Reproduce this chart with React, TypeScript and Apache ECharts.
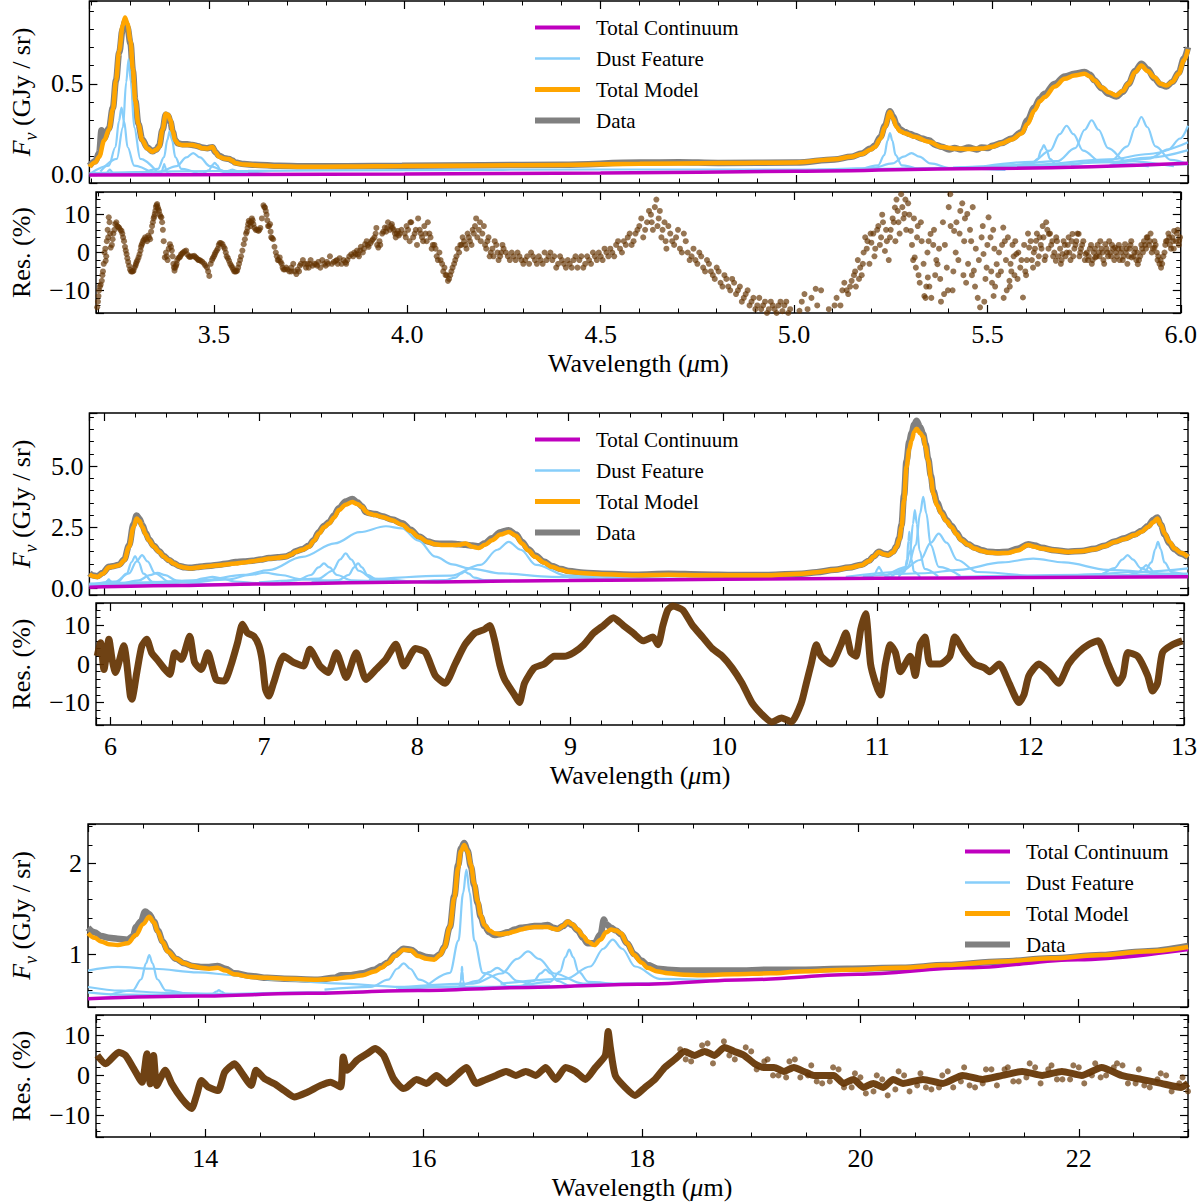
import React, { useEffect, useRef } from "react";
import * as echarts from "echarts";

type P = [number, number][];

// ---------------- Panel 1 (3.2 - 6.0 um) ----------------
const p1Model: P = [[3.195,0.044],[3.21,0.07],[3.22,0.10],[3.233,0.19],[3.245,0.25],[3.255,0.36],[3.263,0.52],[3.271,0.68],[3.28,0.82],[3.286,0.863],[3.292,0.83],[3.30,0.736],[3.306,0.58],[3.312,0.41],[3.32,0.28],[3.33,0.19],[3.343,0.145],[3.356,0.127],[3.366,0.138],[3.373,0.154],[3.382,0.25],[3.39,0.336],[3.396,0.33],[3.402,0.30],[3.408,0.24],[3.414,0.19],[3.422,0.17],[3.432,0.164],[3.445,0.165],[3.458,0.164],[3.472,0.157],[3.483,0.147],[3.496,0.145],[3.509,0.154],[3.517,0.125],[3.526,0.10],[3.54,0.09],[3.551,0.087],[3.56,0.078],[3.567,0.065],[3.59,0.057],[3.618,0.054],[3.68,0.048],[3.738,0.045],[3.85,0.046],[3.993,0.049],[4.2,0.052],[4.4,0.055],[4.6,0.062],[4.8,0.065],[5.0,0.069],[5.098,0.086],[5.14,0.1],[5.167,0.115],[5.19,0.14],[5.2,0.154],[5.215,0.2],[5.226,0.263],[5.239,0.345],[5.247,0.31],[5.256,0.263],[5.265,0.24],[5.277,0.229],[5.302,0.209],[5.338,0.182],[5.371,0.154],[5.404,0.145],[5.44,0.143],[5.473,0.145],[5.50,0.155],[5.524,0.173],[5.55,0.195],[5.575,0.227],[5.59,0.28],[5.608,0.354],[5.622,0.405],[5.634,0.427],[5.66,0.485],[5.685,0.527],[5.71,0.545],[5.736,0.555],[5.75,0.54],[5.761,0.518],[5.78,0.48],[5.797,0.454],[5.817,0.436],[5.833,0.46],[5.848,0.50],[5.865,0.565],[5.881,0.60],[5.897,0.57],[5.914,0.536],[5.93,0.50],[5.945,0.49],[5.96,0.51],[5.976,0.555],[5.99,0.63],[6.0,0.69]];
const p1Data: P = [[3.195,0.05],[3.21,0.075],[3.22,0.12],[3.226,0.245],[3.232,0.2],[3.245,0.255],[3.255,0.37],[3.263,0.52],[3.271,0.67],[3.28,0.80],[3.286,0.84],[3.292,0.81],[3.30,0.72],[3.306,0.57],[3.312,0.41],[3.32,0.28],[3.33,0.195],[3.343,0.15],[3.356,0.13],[3.366,0.14],[3.373,0.16],[3.382,0.25],[3.39,0.33],[3.396,0.325],[3.402,0.29],[3.408,0.235],[3.414,0.19],[3.422,0.172],[3.432,0.168],[3.445,0.168],[3.458,0.165],[3.472,0.158],[3.483,0.15],[3.496,0.147],[3.509,0.152],[3.517,0.125],[3.526,0.105],[3.54,0.092],[3.551,0.088],[3.56,0.08],[3.567,0.068],[3.59,0.06],[3.618,0.056],[3.68,0.05],[3.738,0.048],[3.85,0.048],[3.993,0.05],[4.2,0.054],[4.4,0.056],[4.6,0.068],[4.7,0.07],[4.8,0.066],[5.0,0.068],[5.098,0.085],[5.14,0.1],[5.167,0.118],[5.19,0.145],[5.2,0.16],[5.215,0.21],[5.226,0.27],[5.239,0.35],[5.247,0.32],[5.256,0.275],[5.265,0.25],[5.277,0.235],[5.29,0.225],[5.302,0.215],[5.32,0.2],[5.338,0.19],[5.355,0.165],[5.371,0.155],[5.39,0.14],[5.404,0.148],[5.42,0.14],[5.44,0.15],[5.46,0.14],[5.473,0.15],[5.49,0.148],[5.50,0.16],[5.524,0.175],[5.55,0.2],[5.575,0.235],[5.59,0.3],[5.608,0.37],[5.622,0.42],[5.634,0.445],[5.66,0.5],[5.685,0.54],[5.71,0.555],[5.736,0.565],[5.75,0.55],[5.761,0.52],[5.78,0.475],[5.797,0.445],[5.817,0.43],[5.833,0.455],[5.848,0.5],[5.865,0.57],[5.881,0.61],[5.897,0.58],[5.914,0.53],[5.93,0.495],[5.945,0.485],[5.96,0.51],[5.976,0.56],[5.99,0.64],[6.0,0.70]];
const p1Cont: P = [[3.195,0.0],[3.6,0.002],[4.0,0.005],[4.5,0.011],[5.0,0.02],[5.5,0.036],[6.0,0.064]];
const p1F1: P = [[3.211,0.001],[3.232,0.004],[3.240,0.012],[3.244,0.024],[3.247,0.03],[3.250,0.024],[3.254,0.012],[3.262,0.004],[3.283,0.001]];
const p1F2: P = [[3.199,0.01],[3.2445,0.051],[3.2614,0.152],[3.2705,0.296],[3.277,0.37],[3.2835,0.296],[3.2926,0.152],[3.3095,0.051],[3.355,0.01]];
const p1F3: P = [[3.223,0.019],[3.265,0.088],[3.2806,0.261],[3.289,0.509],[3.295,0.636],[3.301,0.509],[3.3094,0.261],[3.325,0.088],[3.367,0.019]];
const p1F4: P = [[3.328,0.007],[3.37,0.033],[3.3856,0.098],[3.394,0.192],[3.40,0.24],[3.406,0.192],[3.4144,0.098],[3.43,0.033],[3.472,0.007]];
const p1F5: P = [[3.362,0.002],[3.376,0.008],[3.381,0.025],[3.384,0.048],[3.386,0.06],[3.388,0.048],[3.391,0.025],[3.396,0.008],[3.41,0.002]];
const p1F6: P = [[3.25,0.004],[3.3725,0.017],[3.418,0.049],[3.4425,0.096],[3.46,0.12],[3.4775,0.096],[3.502,0.049],[3.5475,0.017],[3.67,0.004]];
const p1F7: P = [[3.443,0.002],[3.485,0.009],[3.5006,0.027],[3.509,0.054],[3.515,0.067],[3.521,0.054],[3.5294,0.027],[3.545,0.009],[3.587,0.002]];
const p1F8: P = [[3.47,0.001],[3.5225,0.004],[3.542,0.012],[3.5525,0.024],[3.56,0.03],[3.5675,0.024],[3.578,0.012],[3.5975,0.004],[3.65,0.001]];
const p1F9: P = [[3.195,0.01],[3.6,0.022],[4.0,0.027],[4.5,0.03],[5.0,0.03],[5.5,0.04],[6.0,0.06]];
const p1F10: P = [[5.167,0.031],[5.209,0.053],[5.2246,0.109],[5.233,0.189],[5.239,0.23],[5.245,0.189],[5.2534,0.109],[5.269,0.053],[5.311,0.031]];
const p1F11: P = [[5.054,0.028],[5.194,0.038],[5.246,0.064],[5.274,0.101],[5.294,0.12],[5.314,0.101],[5.342,0.064],[5.394,0.038],[5.534,0.028]];
const p1F12: P = [[5.554,0.039],[5.5995,0.053],[5.6164,0.088],[5.6255,0.138],[5.632,0.164],[5.6385,0.138],[5.6476,0.088],[5.6645,0.053],[5.71,0.039]];
const p1F13: P = [[5.48,0.047],[5.6025,0.072],[5.648,0.134],[5.6725,0.224],[5.69,0.27],[5.7075,0.224],[5.732,0.134],[5.7775,0.072],[5.90,0.047]];
const p1F14: P = [[5.544,0.048],[5.6665,0.076],[5.712,0.147],[5.7365,0.248],[5.754,0.30],[5.7715,0.248],[5.796,0.147],[5.8415,0.076],[5.964,0.048]];
const p1F15: P = [[5.701,0.053],[5.806,0.083],[5.845,0.157],[5.866,0.263],[5.881,0.318],[5.896,0.263],[5.917,0.157],[5.956,0.083],[6.0,0.06]];
const p1F16: P = [[5.8,0.055],[5.9,0.09],[5.95,0.14],[5.98,0.2],[6.0,0.27]];
const p1F17: P = [[5.4,0.04],[5.6,0.055],[5.8,0.085],[5.9,0.115],[6.0,0.18]];
const p1F18: P = [[5.4,0.038],[5.6,0.05],[5.8,0.07],[5.9,0.095],[6.0,0.136]];
const p1Res: P = [[3.198,-14.5],[3.200,-13],[3.203,-10],[3.205,-9],[3.210,-7.5],[3.213,-5],[3.217,0],[3.220,-2.2],[3.223,3],[3.225,6],[3.228,9.3],[3.230,8],[3.233,1.3],[3.236,2],[3.240,5],[3.245,7.5],[3.250,7],[3.255,6.5],[3.261,5.7],[3.265,4],[3.270,1.5],[3.274,-0.4],[3.278,-2.5],[3.283,-4.5],[3.288,-5],[3.292,-4.8],[3.297,-3.5],[3.300,-2.5],[3.305,-1.3],[3.310,0.5],[3.313,2],[3.317,3.1],[3.322,4],[3.327,3],[3.330,4.5],[3.335,3.5],[3.340,7],[3.344,9],[3.347,10.2],[3.350,12],[3.353,12.8],[3.356,11.5],[3.360,10],[3.364,9.3],[3.368,6],[3.373,-1.3],[3.376,0],[3.380,-2],[3.386,2.2],[3.391,0.5],[3.395,-3],[3.398,-4.8],[3.402,-3.5],[3.405,-2],[3.411,-1.3],[3.415,-0.5],[3.42,0],[3.428,0.5],[3.435,-1],[3.44,-1],[3.449,-0.9],[3.455,-1.5],[3.46,-2],[3.466,-2.2],[3.475,-3],[3.482,-4],[3.488,-6.2],[3.495,-2],[3.50,-1],[3.504,0],[3.51,1],[3.515,2.5],[3.522,2.2],[3.528,1],[3.533,-1],[3.539,-2.2],[3.545,-3.5],[3.55,-4.5],[3.555,-5],[3.560,-4.8],[3.565,-3],[3.57,-1],[3.577,2.2],[3.583,5],[3.587,6.5],[3.590,8.4],[3.595,7],[3.598,9],[3.602,7.5],[3.608,6],[3.615,5.7],[3.62,6.5],[3.628,12.5],[3.632,11.9],[3.636,10],[3.64,7],[3.645,7.5],[3.648,4],[3.653,3.5],[3.66,0],[3.665,-2],[3.670,-1.3],[3.675,-3],[3.68,-4.5],[3.687,-4],[3.695,-5],[3.70,-4],[3.705,-3],[3.713,-5.7],[3.72,-5],[3.725,-3],[3.73,-2],[3.738,-4],[3.745,-4],[3.75,-2],[3.755,-3.5],[3.764,-3.1],[3.77,-2.5],[3.775,-4],[3.78,-2],[3.789,-3.5],[3.795,-3],[3.80,-1],[3.805,-3],[3.815,-2.2],[3.82,-3],[3.825,-1.5],[3.83,-3],[3.840,-2.6],[3.845,-2],[3.85,-1],[3.855,-0.5],[3.866,-0.4],[3.87,0.5],[3.875,-1],[3.88,1.5],[3.885,0],[3.891,2.2],[3.895,3],[3.90,1.5],[3.908,3.1],[3.915,4],[3.92,6.5],[3.925,1.3],[3.93,2],[3.935,5],[3.942,6.6],[3.945,5.5],[3.95,8],[3.955,6],[3.960,7.5],[3.965,6],[3.97,4],[3.976,5.7],[3.98,5],[3.993,5],[3.998,7],[4.006,3],[4.01,8],[4.019,5],[4.025,2],[4.032,6],[4.038,4],[4.044,7],[4.05,3],[4.057,5],[4.063,1],[4.07,2],[4.076,-1],[4.083,0],[4.09,-3],[4.096,-4],[4.102,-6],[4.108,-7],[4.114,-5],[4.121,-3],[4.127,-1],[4.134,0],[4.14,2],[4.147,3],[4.153,1],[4.159,4],[4.166,2],[4.172,5],[4.178,9],[4.185,6],[4.19,3],[4.198,7],[4.204,1],[4.21,4],[4.216,0],[4.223,-1],[4.23,2],[4.236,-2],[4.243,0],[4.249,1],[4.26,-1],[4.27,0],[4.28,-2],[4.29,-1],[4.3,-3],[4.31,-1],[4.32,0],[4.33,-2],[4.34,-1],[4.35,-3],[4.36,-2],[4.37,0],[4.38,-1],[4.39,-3],[4.40,-2],[4.41,-4],[4.42,-3],[4.43,-2],[4.44,-4],[4.45,-1],[4.46,-3],[4.47,-2],[4.48,0],[4.49,-2],[4.50,-1],[4.51,1],[4.52,-1],[4.53,0],[4.54,2],[4.55,1],[4.56,3],[4.57,4],[4.58,2],[4.59,5],[4.60,7],[4.61,4],[4.62,8],[4.63,10],[4.635,6],[4.644,14],[4.65,9],[4.657,4],[4.665,8],[4.67,1],[4.68,5],[4.69,2],[4.70,6],[4.71,0],[4.72,3],[4.73,-2],[4.74,1],[4.75,-3],[4.76,-1],[4.77,-5],[4.78,-3],[4.79,-6],[4.80,-4],[4.81,-8],[4.82,-6],[4.83,-9],[4.84,-7],[4.85,-11],[4.86,-9],[4.87,-12],[4.88,-10],[4.89,-13],[4.90,-15],[4.91,-12],[4.92,-14],[4.93,-16],[4.94,-13],[4.95,-15],[4.96,-14],[4.97,-15.5],[4.98,-13],[4.99,-15],[5.014,-15.4],[5.02,-13],[5.027,-11],[5.035,-15],[5.045,-12],[5.056,-9.6],[5.06,-14],[5.07,-10],[5.09,-15],[5.11,-12],[5.12,-14],[5.13,-8],[5.136,-10],[5.14,-11],[5.149,-7.5],[5.155,-6],[5.16,-9],[5.165,-2],[5.171,-4],[5.175,-6],[5.18,0],[5.184,4],[5.19,3],[5.195,-3],[5.200,2.6],[5.205,5],[5.21,1],[5.218,7],[5.225,4],[5.23,8],[5.235,0.4],[5.24,3],[5.245,-2],[5.25,6],[5.255,9],[5.261,11.9],[5.265,14],[5.27,8],[5.277,15.4],[5.28,12],[5.286,10.2],[5.29,6],[5.295,13],[5.302,5.7],[5.305,2],[5.31,9],[5.312,-1.3],[5.315,-4],[5.32,7],[5.325,-8],[5.33,3],[5.337,-11.5],[5.34,-12],[5.345,0],[5.346,-6.6],[5.35,-9],[5.353,4.9],[5.36,2],[5.365,-6],[5.371,-3.1],[5.375,1],[5.38,-13],[5.385,8],[5.388,-11],[5.395,-4],[5.40,12],[5.404,15.4],[5.41,-10],[5.414,5.7],[5.42,8],[5.425,-2],[5.430,11],[5.435,13],[5.44,3],[5.445,-8],[5.448,10.2],[5.455,6],[5.46,-6],[5.465,-4.8],[5.47,1],[5.475,-12],[5.481,-14.5],[5.485,4],[5.490,-0.4],[5.495,-7],[5.50,2],[5.503,9.3],[5.51,-5],[5.515,6],[5.516,-11.5],[5.52,-9],[5.524,-3.1],[5.53,0],[5.535,-5],[5.541,6.6],[5.545,3],[5.55,-10],[5.557,-7.5],[5.56,-3],[5.565,2],[5.57,-6],[5.575,-0.4],[5.58,0],[5.585,-4],[5.592,-11.9],[5.595,2],[5.60,-6],[5.605,5],[5.608,1.3],[5.615,-2],[5.62,0],[5.626,3.1],[5.63,-3],[5.635,4],[5.64,1],[5.643,7],[5.65,-1],[5.655,6],[5.659,4.9],[5.665,2],[5.67,-1],[5.677,-2.2],[5.68,3],[5.69,-3],[5.694,-0.4],[5.70,2],[5.705,0],[5.71,4],[5.715,-2],[5.720,4.9],[5.725,1],[5.73,3],[5.736,4.9],[5.74,0],[5.745,2],[5.754,-0.4],[5.76,-2],[5.765,1],[5.77,-3],[5.775,0],[5.779,-1.3],[5.785,2],[5.79,-1],[5.795,1],[5.80,-2],[5.805,2.2],[5.81,0],[5.815,3],[5.82,-1],[5.825,1],[5.830,1.3],[5.835,-1],[5.84,2],[5.845,0],[5.85,-2],[5.856,2.2],[5.86,1],[5.865,-1],[5.87,2],[5.873,-1.3],[5.88,0],[5.885,-2],[5.889,-3.1],[5.895,-1],[5.90,1],[5.905,3],[5.91,1],[5.914,4],[5.92,3],[5.925,0],[5.932,1.3],[5.935,2],[5.94,-2],[5.945,-3],[5.949,-4],[5.955,-1],[5.96,2],[5.965,3.1],[5.97,4],[5.975,1],[5.98,3],[5.983,5.7],[5.99,5],[5.995,2],[5.996,3.1]];
const p1ResExtra: P = [[3.2015,-11.5],[3.207,-8.5],[3.2115,-6],[3.215,-3],[3.219,1],[3.2215,-1],[3.2265,4],[3.2315,5],[3.238,3.5],[3.2425,6],[3.2475,8],[3.2525,6.8],[3.258,6],[3.263,5],[3.2675,3],[3.272,0.5],[3.276,-1.5],[3.2805,-3.5],[3.2855,-5],[3.29,-5],[3.2945,-4],[3.2985,-3],[3.3025,-2],[3.3075,-0.5],[3.3115,1.5],[3.315,2.5],[3.3195,3.5],[3.3245,3.5],[3.3325,4],[3.3375,5.5],[3.342,8],[3.3455,9.5],[3.3485,11],[3.3515,12.5],[3.3545,12],[3.358,11],[3.362,9.5],[3.366,8],[3.37,3],[3.378,-1],[3.383,1],[3.389,1.5],[3.393,-1],[3.3965,-4],[3.4,-4],[3.4035,-3],[3.408,-1.5],[3.413,-1],[3.418,-0.3],[3.424,0.3],[3.431,-0.5],[3.438,-1.2],[3.445,-1],[3.452,-1.2],[3.458,-1.8],[3.463,-2],[3.47,-2.5],[3.478,-3.5],[3.485,-5],[3.4915,-3],[3.497,-1.5],[3.502,-0.5],[3.507,0.5],[3.5125,2],[3.518,2.5],[3.525,1.5],[3.5305,0],[3.536,-1.5],[3.542,-3],[3.5475,-4],[3.5525,-5],[3.5575,-5],[3.5625,-4],[3.5675,-2],[3.5735,0.5],[3.58,3.5],[3.585,5.5],[3.5885,7.5],[3.5925,8],[3.5965,8],[3.6,8.5],[3.605,6.5],[3.6115,6],[3.6175,6],[3.624,9],[3.63,12],[3.634,11],[3.638,8.5],[3.6425,7],[3.6465,5.5],[3.6505,3.8],[3.6565,1.5],[3.6625,-1],[3.6675,-2],[3.6725,-2.5],[3.6775,-4],[3.6835,-4.5],[3.69,-4.5],[3.7,-5],[3.709,-5],[3.716,-4.5],[3.722,-3.5],[3.734,-3],[3.741,-3],[3.748,-3],[3.76,-3],[3.767,-3.5],[3.785,-3],[3.792,-2.5],[3.81,-2.5],[3.818,-2],[3.835,-2],[3.842,-3],[3.86,-1],[3.863,0],[3.872,-0.5],[3.878,0.5],[3.888,1],[3.898,2],[3.905,2.5],[3.911,3.5],[3.918,5],[3.922,2],[3.928,3],[3.938,5.5],[3.948,6.5],[3.958,7],[3.962,6.5],[3.968,5],[3.973,5],[3.978,4.5],[3.985,6],[3.996,4],[4.002,6],[4.008,8],[4.015,4],[4.022,6],[4.028,9],[4.035,5],[4.041,3],[4.047,5],[4.053,8],[4.06,4],[4.066,2],[4.073,1],[4.079,-2],[4.086,-2],[4.093,-5],[4.099,-6],[4.105,-7.5],[4.111,-6],[4.117,-4],[4.124,-2],[4.13,1],[4.137,2],[4.143,4],[4.15,2],[4.156,5],[4.162,3],[4.169,6],[4.175,7],[4.181,4],[4.188,8],[4.194,5],[4.201,2],[4.207,3],[4.213,-1],[4.22,1],[4.226,3],[4.233,0],[4.24,-1],[4.246,2],[4.255,0],[4.265,-2],[4.275,-1],[4.285,0],[4.295,-2],[4.305,-2],[4.315,-3],[4.325,-1],[4.335,-3],[4.345,-2],[4.355,0],[4.365,-1],[4.375,-2],[4.385,-4],[4.395,-1],[4.405,-3],[4.415,-2],[4.425,-4],[4.435,-1],[4.445,-2],[4.455,-4],[4.465,-1],[4.475,-3],[4.485,-1],[4.495,0],[4.505,-2],[4.515,0],[4.525,1],[4.535,-1],[4.545,3],[4.555,0],[4.565,2],[4.575,5],[4.585,3],[4.595,6],[4.605,9],[4.615,6],[4.625,11],[4.632,8],[4.64,12],[4.647,7],[4.653,11],[4.66,6],[4.668,3],[4.675,7],[4.685,3],[4.695,4],[4.705,1],[4.715,5],[4.725,0],[4.735,-1],[4.745,-2],[4.755,0],[4.765,-4],[4.775,-2],[4.785,-5],[4.795,-7],[4.805,-5],[4.815,-9],[4.825,-7],[4.835,-10],[4.845,-8],[4.855,-10],[4.865,-13],[4.875,-11],[4.885,-14],[4.895,-12],[4.905,-14],[4.915,-15],[4.925,-13],[4.935,-15],[4.945,-14],[4.955,-16],[4.965,-13],[4.975,-14],[4.985,-16],[5.105,-14],[5.125,-10],[5.145,-9],[5.158,-5],[5.168,-7],[5.178,-3],[5.188,1],[5.198,5],[5.208,-1],[5.215,6],[5.222,2],[5.228,10],[5.238,6],[5.248,4],[5.258,8],[5.262,3],[5.268,11],[5.273,5],[5.283,9],[5.288,14],[5.298,10],[5.308,-2],[5.318,4],[5.322,-6],[5.328,8],[5.335,-3],[5.342,-9],[5.348,3],[5.355,-12],[5.362,6],[5.368,-2],[5.378,-7],[5.39,2],[5.398,-10],[5.405,7],[5.412,-5],[5.418,0],[5.428,5],[5.438,-6],[5.442,9],[5.45,-3],[5.458,3],[5.462,12],[5.468,-9],[5.478,-2],[5.488,7],[5.492,-13],[5.498,-4],[5.508,4],[5.512,-8],[5.518,1],[5.528,-6],[5.538,2],[5.542,-12],[5.548,-2],[5.553,4],[5.558,-9],[5.562,-5],[5.568,-1],[5.572,3],[5.578,-7],[5.588,-2],[5.598,-5],[5.602,-2],[5.612,3],[5.618,-4],[5.623,1],[5.628,5],[5.633,-1],[5.638,2],[5.645,4],[5.648,-2],[5.652,8],[5.658,1],[5.662,5],[5.668,3],[5.673,0],[5.678,4],[5.683,-1],[5.688,1],[5.692,-2],[5.697,3],[5.702,-1],[5.708,2],[5.712,0],[5.718,3],[5.722,-1],[5.728,2],[5.733,5],[5.738,-1],[5.742,1],[5.748,3],[5.752,-2],[5.757,0],[5.762,-1],[5.768,2],[5.772,-2],[5.778,1],[5.782,-1],[5.788,0],[5.792,3],[5.798,0],[5.802,-3],[5.808,1],[5.812,-1],[5.818,0],[5.822,2],[5.828,-2],[5.832,0],[5.838,1],[5.842,-2],[5.848,1],[5.852,-1],[5.858,0],[5.862,-3],[5.868,1],[5.872,3],[5.878,-1],[5.882,1],[5.888,0],[5.892,-2],[5.898,2],[5.902,0],[5.908,2],[5.912,4],[5.918,2],[5.922,5],[5.928,1],[5.932,3],[5.938,0],[5.942,-1],[5.948,-2],[5.952,-3],[5.958,0],[5.962,3],[5.968,5],[5.972,2],[5.978,4],[5.982,1],[5.988,3],[5.992,6],[5.998,4]];

// ---------------- Panel 2 (5.9 - 13 um) ----------------
const p2Model: P = [[5.905,0.58],[5.93,0.5],[5.957,0.47],[5.99,0.6],[6.032,0.86],[6.065,0.9],[6.097,0.95],[6.13,1.15],[6.161,1.7],[6.19,2.5],[6.21,2.86],[6.228,2.75],[6.247,2.51],[6.27,2.2],[6.29,1.97],[6.32,1.72],[6.355,1.5],[6.385,1.3],[6.419,1.15],[6.45,1.02],[6.484,0.91],[6.52,0.85],[6.559,0.82],[6.6,0.85],[6.634,0.88],[6.69,0.92],[6.742,0.95],[6.8,0.99],[6.849,1.02],[6.9,1.06],[6.957,1.11],[7.01,1.16],[7.064,1.22],[7.12,1.25],[7.172,1.29],[7.21,1.39],[7.236,1.49],[7.28,1.58],[7.322,1.70],[7.355,1.95],[7.387,2.24],[7.42,2.5],[7.452,2.65],[7.485,2.9],[7.516,3.2],[7.56,3.42],[7.602,3.53],[7.635,3.45],[7.666,3.33],[7.69,3.15],[7.71,3.06],[7.75,3.0],[7.795,2.92],[7.86,2.79],[7.924,2.6],[7.98,2.35],[8.032,2.1],[8.09,1.9],[8.139,1.8],[8.19,1.77],[8.247,1.77],[8.29,1.78],[8.333,1.84],[8.38,1.7],[8.419,1.65],[8.46,1.78],[8.505,1.97],[8.56,2.2],[8.613,2.31],[8.66,2.15],[8.699,1.84],[8.74,1.55],[8.784,1.29],[8.84,1.06],[8.892,0.88],[8.95,0.76],[9.0,0.68],[9.1,0.62],[9.215,0.58],[9.43,0.54],[9.645,0.56],[9.86,0.54],[10.075,0.54],[10.29,0.54],[10.505,0.60],[10.6,0.66],[10.718,0.75],[10.81,0.84],[10.892,0.95],[10.94,1.12],[10.968,1.29],[11.004,1.49],[11.035,1.4],[11.064,1.36],[11.095,1.48],[11.118,1.70],[11.135,2.0],[11.15,2.51],[11.166,3.6],[11.182,4.96],[11.2,5.7],[11.215,6.05],[11.232,6.4],[11.247,6.53],[11.27,6.35],[11.29,6.19],[11.305,5.8],[11.322,5.24],[11.34,4.5],[11.355,3.88],[11.38,3.4],[11.408,3.06],[11.44,2.75],[11.473,2.51],[11.505,2.22],[11.537,1.97],[11.58,1.78],[11.623,1.63],[11.67,1.53],[11.709,1.47],[11.77,1.44],[11.838,1.45],[11.9,1.55],[11.968,1.77],[12.01,1.7],[12.053,1.63],[12.14,1.55],[12.226,1.49],[12.31,1.52],[12.397,1.60],[12.46,1.72],[12.526,1.90],[12.59,2.02],[12.655,2.18],[12.7,2.32],[12.742,2.51],[12.775,2.7],[12.802,2.86],[12.825,2.6],[12.849,2.24],[12.88,1.9],[12.913,1.63],[12.955,1.45],[13.0,1.29]];
const p2Data: P = [[5.905,0.62],[5.93,0.53],[5.957,0.5],[5.99,0.63],[6.032,0.88],[6.065,0.92],[6.097,0.97],[6.13,1.18],[6.161,1.75],[6.19,2.62],[6.21,2.98],[6.228,2.85],[6.247,2.58],[6.27,2.25],[6.29,2.0],[6.32,1.74],[6.355,1.52],[6.385,1.32],[6.419,1.16],[6.45,1.03],[6.484,0.92],[6.52,0.86],[6.559,0.84],[6.6,0.87],[6.634,0.9],[6.69,0.93],[6.742,0.97],[6.8,1.02],[6.849,1.08],[6.9,1.1],[6.957,1.13],[7.01,1.18],[7.064,1.24],[7.12,1.27],[7.172,1.3],[7.21,1.4],[7.236,1.52],[7.28,1.6],[7.322,1.74],[7.355,1.98],[7.387,2.3],[7.42,2.55],[7.452,2.7],[7.485,2.98],[7.516,3.28],[7.56,3.55],[7.602,3.65],[7.635,3.52],[7.666,3.35],[7.69,3.12],[7.71,3.08],[7.75,3.04],[7.795,2.95],[7.86,2.82],[7.924,2.66],[7.98,2.4],[8.032,2.12],[8.09,1.92],[8.139,1.84],[8.19,1.82],[8.247,1.83],[8.29,1.8],[8.333,1.78],[8.38,1.75],[8.419,1.72],[8.46,1.85],[8.505,2.05],[8.56,2.3],[8.613,2.38],[8.66,2.2],[8.699,1.9],[8.74,1.6],[8.784,1.34],[8.84,1.1],[8.892,0.92],[8.95,0.79],[9.0,0.71],[9.1,0.64],[9.215,0.6],[9.43,0.56],[9.645,0.6],[9.86,0.57],[10.075,0.55],[10.29,0.55],[10.505,0.6],[10.6,0.66],[10.718,0.76],[10.81,0.85],[10.892,0.97],[10.94,1.13],[10.968,1.3],[11.004,1.5],[11.035,1.42],[11.064,1.38],[11.095,1.5],[11.118,1.72],[11.135,2.05],[11.15,2.6],[11.166,3.8],[11.182,5.2],[11.2,6.0],[11.215,6.35],[11.232,6.7],[11.247,6.85],[11.27,6.6],[11.29,6.3],[11.305,5.9],[11.322,5.3],[11.34,4.6],[11.355,3.98],[11.38,3.5],[11.408,3.12],[11.44,2.8],[11.473,2.55],[11.505,2.27],[11.537,2.0],[11.58,1.8],[11.623,1.66],[11.67,1.56],[11.709,1.5],[11.77,1.48],[11.838,1.5],[11.9,1.62],[11.968,1.8],[12.01,1.75],[12.053,1.66],[12.14,1.56],[12.226,1.5],[12.31,1.53],[12.397,1.62],[12.46,1.74],[12.526,1.92],[12.59,2.05],[12.655,2.2],[12.7,2.36],[12.742,2.55],[12.775,2.8],[12.802,2.9],[12.825,2.6],[12.849,2.2],[12.88,1.85],[12.913,1.6],[12.955,1.42],[13.0,1.27]];
const p2Cont: P = [[5.905,0.05],[6.5,0.12],[7,0.18],[8,0.26],[9,0.32],[10,0.37],[11,0.41],[12,0.45],[13,0.48]];
const p2G1: P = [[5.91,0.089],[5.98,0.121],[6.006,0.199],[6.02,0.312],[6.03,0.37],[6.04,0.312],[6.054,0.199],[6.08,0.121],[6.15,0.089]];
const p2G2: P = [[5.93,0.137],[6.0875,0.271],[6.146,0.60],[6.1775,1.076],[6.20,1.32],[6.2225,1.076],[6.254,0.60],[6.3125,0.271],[6.47,0.137]];
const p2G3: P = [[5.905,0.14],[6.07,0.276],[6.161,0.617],[6.21,1.108],[6.245,1.36],[6.28,1.108],[6.329,0.617],[6.42,0.276],[6.665,0.16]];
const p2G4: P = [[5.905,0.1],[6.095,0.19],[6.225,0.33],[6.295,0.54],[6.345,0.64],[6.395,0.54],[6.465,0.33],[6.595,0.19],[6.945,0.15]];
const p2G5: P = [[5.98,0.16],[6.40,0.195],[6.556,0.281],[6.64,0.406],[6.70,0.47],[6.76,0.406],[6.844,0.281],[7.0,0.215],[7.42,0.22]];
const p2G6: P = [[5.905,0.17],[6.54,0.244],[6.80,0.369],[6.94,0.548],[7.04,0.64],[7.14,0.548],[7.28,0.369],[7.54,0.28],[8.24,0.28]];
const p2G7: P = [[7.0,0.244],[7.245,0.332],[7.336,0.548],[7.385,0.86],[7.42,1.02],[7.455,0.86],[7.504,0.548],[7.595,0.332],[7.84,0.26]];
const p2G8: P = [[7.14,0.266],[7.385,0.398],[7.476,0.722],[7.525,1.19],[7.56,1.43],[7.595,1.19],[7.644,0.722],[7.735,0.398],[7.98,0.28]];
const p2G9: P = [[7.34,0.254],[7.515,0.34],[7.58,0.554],[7.615,0.862],[7.64,1.02],[7.665,0.862],[7.70,0.554],[7.765,0.34],[7.94,0.27]];
const p2G10: P = [[5.905,0.2],[6.3,0.25],[6.64,0.34],[6.9,0.55],[7.064,0.75],[7.28,1.29],[7.49,1.84],[7.65,2.3],[7.82,2.54],[7.924,2.45],[8.03,1.95],[8.139,1.3],[8.25,0.98],[8.355,0.82],[8.57,0.61],[8.89,0.47],[9.3,0.4],[10.0,0.39]];
const p2G11: P = [[8.03,0.29],[8.205,0.336],[8.27,0.444],[8.305,0.6],[8.33,0.68],[8.355,0.6],[8.39,0.444],[8.455,0.336],[8.63,0.29]];
const p2G12: P = [[7.71,0.35],[8.24,0.52],[8.43,0.96],[8.54,1.58],[8.613,1.9],[8.69,1.58],[8.79,0.96],[8.99,0.52],[9.51,0.36]];
const p2G13: P = [[10.88,0.42],[10.954,0.476],[10.98,0.603],[10.994,0.786],[11.004,0.88],[11.014,0.786],[11.028,0.603],[11.054,0.476],[11.124,0.42]];
const p2G14: P = [[11.13,0.47],[11.17,0.68],[11.1856,1.19],[11.194,1.93],[11.2,2.31],[11.206,1.93],[11.2144,1.19],[11.23,0.68],[11.27,0.47]];
const p2G15: P = [[11.086,0.49],[11.1735,0.8],[11.206,1.55],[11.2235,2.64],[11.236,3.2],[11.2485,2.64],[11.266,1.55],[11.2985,0.8],[11.386,0.49]];
const p2G16: P = [[11.05,0.51],[11.19,0.88],[11.242,1.78],[11.27,3.07],[11.29,3.74],[11.31,3.07],[11.338,1.78],[11.39,0.88],[11.53,0.51]];
const p2G17: P = [[10.79,0.47],[11.14,0.67],[11.27,1.16],[11.34,1.87],[11.39,2.24],[11.44,1.87],[11.51,1.16],[11.64,0.67],[11.99,0.48]];
const p2G18: P = [[10.9,0.5],[11.3,0.62],[11.52,0.76],[11.8,1.06],[12.0,1.22],[12.2,1.06],[12.48,0.76],[12.9,0.6],[13.0,0.58]];
const p2G19: P = [[12.19,0.49],[12.435,0.586],[12.526,0.83],[12.575,1.18],[12.61,1.36],[12.645,1.18],[12.694,0.83],[12.785,0.586],[13.0,0.5]];
const p2G20: P = [[12.49,0.49],[12.63,0.54],[12.682,0.67],[12.71,0.85],[12.73,0.95],[12.75,0.85],[12.778,0.67],[12.83,0.54],[12.97,0.49]];
const p2G21: P = [[12.596,0.51],[12.7185,0.67],[12.764,1.06],[12.7885,1.61],[12.806,1.9],[12.8235,1.61],[12.848,1.06],[12.8935,0.67],[13.0,0.52]];
const p2G22: P = [[11.5,0.47],[12.3,0.55],[12.7,0.68],[13.0,0.82]];
const p2G23: P = [[11.5,0.46],[12.3,0.5],[12.8,0.56],[13.0,0.6]];
const p2Res: P = [[5.913,2.1],[5.935,5.5],[5.957,-1.4],[5.989,6.4],[6.010,1.2],[6.032,-2.2],[6.086,4.7],[6.129,-8.3],[6.139,-9.1],[6.171,-2.2],[6.204,4.7],[6.236,6.4],[6.268,2.9],[6.311,0.8],[6.355,-1.4],[6.387,-2.7],[6.419,2.9],[6.462,1.2],[6.516,7.2],[6.548,0.4],[6.591,-1.4],[6.634,2.9],[6.688,-4],[6.742,-4.4],[6.784,-0.5],[6.828,5.5],[6.860,10.3],[6.892,8.1],[6.935,7.2],[6.968,4.7],[6.989,0.8],[7.010,-6.5],[7.032,-8.3],[7.064,-4.8],[7.129,2.1],[7.193,0.4],[7.258,-0.5],[7.300,3.8],[7.365,-0.5],[7.419,-2.2],[7.473,2.9],[7.537,-3.5],[7.602,2.9],[7.666,-4],[7.731,-1.4],[7.795,1.2],[7.860,5.1],[7.913,-0.5],[7.924,0],[7.989,4],[8.053,3],[8.118,-3],[8.182,-5],[8.247,0],[8.311,5],[8.376,8],[8.440,9],[8.473,10],[8.505,6],[8.537,0],[8.570,-4],[8.634,-8],[8.666,-10],[8.699,-5],[8.763,-1],[8.828,0],[8.892,2],[8.957,2],[9.021,3],[9.086,5],[9.150,8],[9.215,10],[9.279,12],[9.344,10],[9.408,8],[9.473,6],[9.537,7],[9.570,5],[9.602,10],[9.634,14],[9.666,15],[9.731,14],[9.795,10],[9.860,7],[9.924,4],[9.989,2],[10.053,-1],[10.118,-5],[10.182,-10],[10.247,-13],[10.311,-15],[10.376,-14],[10.440,-15],[10.505,-10],[10.537,-5],[10.569,0],[10.602,5],[10.634,2],[10.698,0],[10.763,5],[10.795,8],[10.827,3],[10.860,2],[10.892,9],[10.924,13],[10.956,0],[10.989,-5],[11.021,-8],[11.053,0],[11.085,5],[11.118,3],[11.150,-2],[11.215,2],[11.247,-3],[11.279,5],[11.311,7],[11.344,0],[11.408,0],[11.473,2],[11.505,7],[11.569,3],[11.634,0],[11.698,-1],[11.731,-2],[11.795,0],[11.860,-5],[11.924,-10],[11.956,-8],[11.989,-3],[12.053,0],[12.118,-2],[12.182,-5],[12.247,0],[12.311,3],[12.376,5],[12.440,6],[12.505,0],[12.569,-5],[12.602,-3],[12.634,3],[12.698,2],[12.763,-3],[12.795,-7],[12.827,-5],[12.860,3],[12.924,5],[12.989,6]];

// ---------------- Panel 3 (13 - 23 um) ----------------
const p3Model: P = [[13.0,1.23],[13.06,1.18],[13.118,1.14],[13.19,1.11],[13.27,1.10],[13.36,1.12],[13.436,1.21],[13.5,1.33],[13.557,1.41],[13.6,1.35],[13.634,1.25],[13.68,1.13],[13.725,1.03],[13.8,0.95],[13.875,0.90],[13.95,0.87],[14.027,0.85],[14.1,0.84],[14.179,0.85],[14.25,0.82],[14.33,0.78],[14.482,0.75],[14.63,0.74],[14.785,0.73],[15.088,0.72],[15.24,0.73],[15.39,0.75],[15.5,0.77],[15.603,0.81],[15.67,0.85],[15.725,0.90],[15.79,0.98],[15.87,1.05],[15.936,1.04],[16.0,0.98],[16.08,0.95],[16.148,0.94],[16.2,0.99],[16.239,1.07],[16.29,1.3],[16.33,1.62],[16.365,1.95],[16.39,2.13],[16.42,2.20],[16.45,2.13],[16.482,1.98],[16.51,1.78],[16.543,1.58],[16.57,1.43],[16.603,1.32],[16.65,1.26],[16.694,1.23],[16.75,1.22],[16.815,1.23],[16.88,1.25],[16.936,1.27],[17.0,1.29],[17.057,1.30],[17.12,1.30],[17.179,1.30],[17.23,1.28],[17.27,1.27],[17.32,1.31],[17.361,1.36],[17.4,1.33],[17.452,1.27],[17.5,1.2],[17.543,1.14],[17.603,1.10],[17.66,1.16],[17.71,1.24],[17.755,1.27],[17.8,1.26],[17.845,1.23],[17.9,1.12],[17.966,0.99],[18.03,0.91],[18.088,0.85],[18.18,0.81],[18.27,0.79],[18.42,0.775],[18.573,0.77],[18.875,0.78],[19.2,0.79],[19.482,0.81],[19.9,0.83],[20.39,0.85],[20.8,0.88],[21.3,0.92],[21.75,0.955],[22.21,0.99],[22.6,1.03],[23.0,1.08]];
const p3Data: P = [[13.0,1.29],[13.06,1.24],[13.118,1.2],[13.19,1.18],[13.27,1.17],[13.36,1.16],[13.41,1.2],[13.436,1.3],[13.48,1.36],[13.52,1.47],[13.557,1.44],[13.6,1.36],[13.634,1.26],[13.68,1.14],[13.725,1.04],[13.8,0.95],[13.875,0.9],[13.95,0.87],[14.027,0.86],[14.1,0.86],[14.179,0.87],[14.25,0.84],[14.33,0.79],[14.482,0.76],[14.63,0.74],[14.785,0.73],[15.088,0.72],[15.24,0.74],[15.3,0.77],[15.39,0.77],[15.5,0.79],[15.603,0.83],[15.67,0.87],[15.725,0.91],[15.79,0.99],[15.87,1.06],[15.936,1.05],[16.0,1.0],[16.08,0.97],[16.148,0.96],[16.2,1.0],[16.239,1.08],[16.29,1.3],[16.33,1.64],[16.365,1.98],[16.39,2.16],[16.42,2.22],[16.45,2.14],[16.482,1.96],[16.51,1.76],[16.543,1.56],[16.57,1.41],[16.603,1.31],[16.65,1.24],[16.694,1.21],[16.75,1.22],[16.815,1.24],[16.88,1.27],[16.936,1.29],[17.0,1.3],[17.057,1.31],[17.12,1.31],[17.179,1.32],[17.23,1.29],[17.27,1.28],[17.32,1.31],[17.361,1.35],[17.4,1.32],[17.452,1.26],[17.5,1.18],[17.543,1.12],[17.603,1.12],[17.66,1.22],[17.69,1.38],[17.71,1.33],[17.755,1.29],[17.8,1.26],[17.845,1.22],[17.9,1.12],[17.966,1.0],[18.03,0.93],[18.088,0.88],[18.18,0.84],[18.27,0.83],[18.42,0.82],[18.573,0.82],[18.875,0.82],[19.2,0.83],[19.482,0.83],[19.9,0.84],[20.39,0.85],[20.8,0.88],[21.3,0.92],[21.75,0.955],[22.21,0.99],[22.6,1.03],[23.0,1.09]];
const p3Cont: P = [[13,0.51],[14,0.54],[15,0.57],[16,0.60],[17,0.635],[18,0.67],[19,0.72],[20,0.78],[21,0.85],[22,0.94],[23,1.05]];
const p3H1: P = [[13.0,0.82],[13.27,0.86],[13.6,0.84],[14.0,0.80],[14.33,0.77],[14.7,0.72],[15.24,0.68],[15.85,0.64],[16.5,0.64],[17.2,0.655]];
const p3H2: P = [[13.197,0.554],[13.407,0.603],[13.485,0.725],[13.527,0.90],[13.557,0.99],[13.587,0.90],[13.629,0.725],[13.707,0.603],[13.917,0.554]];
const p3H3: P = [[13.0,0.64],[13.3,0.6],[13.7,0.575],[14.2,0.565],[15.0,0.58],[16.0,0.605]];
const p3H4: P = [[13.0,0.58],[13.3,0.555],[14.0,0.55],[14.8,0.57]];
const p3H5: P = [[14.0,0.556],[14.13,0.565],[14.17,0.59],[14.19,0.605],[14.21,0.59],[14.25,0.565],[14.4,0.558]];
const p3H6: P = [[15.15,0.61],[15.57,0.64],[15.73,0.72],[15.81,0.84],[15.87,0.9],[15.93,0.84],[16.01,0.72],[16.17,0.64],[16.59,0.615]];
const p3H7: P = [[16.08,0.65],[16.29,0.795],[16.368,1.15],[16.41,1.67],[16.44,1.93],[16.47,1.67],[16.512,1.15],[16.59,0.795],[16.80,0.65]];
const p3H8: P = [[16.352,0.618],[16.38,0.645],[16.39,0.71],[16.396,0.81],[16.40,0.86],[16.404,0.81],[16.41,0.71],[16.42,0.645],[16.448,0.618]];
const p3H9: P = [[15.82,0.617],[16.345,0.644],[16.54,0.708],[16.645,0.802],[16.72,0.85],[16.795,0.802],[16.9,0.708],[17.095,0.644],[17.62,0.66]];
const p3H10: P = [[15.8,0.632],[16.5,0.677],[16.76,0.788],[16.9,0.948],[17.0,1.03],[17.1,0.948],[17.24,0.788],[17.5,0.677],[18.2,0.68]];
const p3H11: P = [[16.62,0.63],[16.935,0.652],[17.052,0.706],[17.115,0.79],[17.16,0.83],[17.205,0.79],[17.268,0.706],[17.385,0.652],[17.7,0.66]];
const p3H12: P = [[16.955,0.652],[17.2,0.697],[17.291,0.808],[17.34,0.968],[17.375,1.05],[17.41,0.968],[17.459,0.808],[17.55,0.697],[17.795,0.67]];
const p3H13: P = [[16.75,0.675],[17.345,0.73],[17.566,0.865],[17.685,1.06],[17.77,1.16],[17.855,1.06],[17.974,0.865],[18.195,0.73],[18.79,0.71]];
const p3Res: P = [[13.012,5],[13.088,2.9],[13.209,5.8],[13.27,5],[13.345,1.7],[13.421,-1.7],[13.466,5.4],[13.497,-2.1],[13.527,5],[13.557,-2.5],[13.634,1.3],[13.694,-2.1],[13.785,-5.8],[13.875,-8.3],[13.921,-5],[13.966,-1.3],[14.027,-2.9],[14.118,-3.8],[14.179,0.8],[14.27,2.9],[14.33,0.8],[14.421,-2.5],[14.466,1.3],[14.543,-0.8],[14.634,-2.1],[14.725,-3.8],[14.815,-5.4],[14.936,-4.2],[15.057,-2.5],[15.148,-1.7],[15.239,-2.9],[15.264,4.6],[15.3,1.3],[15.39,3.8],[15.482,5.4],[15.557,6.7],[15.634,5],[15.725,-0.8],[15.815,-3.3],[15.845,-3],[15.936,-1],[16.027,-2],[16.118,0],[16.209,-2],[16.3,0],[16.39,2],[16.482,-2],[16.573,-1],[16.664,0],[16.755,1],[16.845,0],[16.936,1],[17.027,0],[17.118,2],[17.209,-1],[17.3,2],[17.39,1],[17.482,-1],[17.573,2],[17.664,5],[17.69,11],[17.71,7],[17.755,0],[17.845,-3],[17.936,-5],[18.027,-3],[18.118,-1],[18.209,2],[18.3,4],[18.39,6],[18.482,5],[18.573,6],[18.664,5],[18.755,7],[18.845,6],[18.936,5],[19.027,3],[19.118,2],[19.209,2],[19.3,1],[19.39,2],[19.482,1],[19.573,0],[19.664,0],[19.755,0],[19.845,-2],[19.936,-1],[20.027,-3],[20.118,-2],[20.209,-3],[20.3,-1],[20.39,-2],[20.573,-1],[20.755,-2],[20.936,0],[21.118,-1],[21.3,0],[21.482,1],[21.664,0],[21.845,1],[22.027,0],[22.209,2],[22.39,0],[22.573,-1],[22.755,-2],[22.936,-3],[23.0,-2]];
const p3ResScatter: P = [[18.35,6.5],[18.45,3.5],[18.55,7.5],[18.65,3],[18.75,8.5],[18.85,4],[18.95,7],[19.05,1.5],[19.15,4],[19.25,0],[19.35,3.5],[19.45,-0.5],[19.55,2.5],[19.65,-2],[19.75,2],[19.85,-3],[19.95,0.5],[20.05,-4.5],[20.15,0],[20.25,-5],[20.35,1],[20.45,-4],[20.55,0.5],[20.65,-3.5],[20.75,0],[20.85,-3],[20.95,2],[21.05,-3],[21.15,1.5],[21.25,-2.5],[21.35,2],[21.45,-1.5],[21.55,3],[21.65,-2],[21.75,2.5],[21.85,-1],[21.95,2.5],[22.05,-2],[22.15,3],[22.25,0],[22.35,3],[22.45,-2],[22.55,1.5],[22.65,-3],[22.75,0.5],[22.85,-4],[22.95,-0.5],[18.4,4],[18.6,8],[18.8,5],[19.0,6],[19.2,0],[19.4,4],[19.6,-1.5],[19.8,1.5],[20.0,-0.5],[20.2,-1],[20.4,0],[20.6,-3],[20.8,1],[21.0,-2.5],[21.2,1.5],[21.4,-1.5],[21.6,2],[21.8,-1],[22.0,2],[22.2,-0.5],[22.4,2.5],[22.6,-2.5],[22.8,0],[23.0,-4],[19.12,3.5],[19.32,-0.5],[19.52,0],[19.72,-1.5],[19.92,-3],[20.12,-4],[20.32,-3.5],[20.52,-2.5],[20.72,-3],[20.92,-1.5],[21.12,-2],[21.32,1.5],[21.52,-0.5],[21.72,1.5],[21.92,-1],[22.12,0],[22.32,2],[22.52,-2],[22.72,-1],[22.92,-2]];

const p1Features: P[] = [p1F9, p1F1, p1F2, p1F3, p1F4, p1F5, p1F6, p1F7, p1F8, p1F10, p1F11, p1F12, p1F13, p1F14, p1F15, p1F16, p1F17, p1F18];
const p2Features: P[] = [p2G1, p2G2, p2G3, p2G4, p2G5, p2G6, p2G7, p2G8, p2G9, p2G10, p2G11, p2G12, p2G13, p2G14, p2G15, p2G16, p2G17, p2G18, p2G19, p2G20, p2G21, p2G22, p2G23];
const p3Features: P[] = [p3H1, p3H2, p3H3, p3H4, p3H5, p3H6, p3H7, p3H8, p3H9, p3H10, p3H11, p3H12, p3H13];

const legendNames = ["Total Continuum", "Dust Feature", "Total Model", "Data"];

// ---------------- styling / layout ----------------
const FONT = "'Liberation Serif', 'DejaVu Serif', serif";
const C_CONT = "#bf00bf";
const C_DUST = "#87cefa";
const C_MODEL = "#ffa500";
const C_DATA = "#808080";
const C_RES = "rgba(100,52,2,0.85)";
const C_RES_LINE = "rgba(100,52,2,0.93)";

const near = (v: number, step: number) => Math.abs(v / step - Math.round(v / step)) < 1e-6;
const minus = (s: string) => s.replace("-", "\u2212");

interface Panel {
  xMin: number; xMax: number; xIv: number; xMinorSplit: number; xFmt: (v: number) => string;
  yMin: number; yMax: number; yIv: number; yMinorSplit: number; yFmt: (v: number) => string;
  rMin: number; rMax: number;
  mainTop: number; mainH: number; resTop: number; resH: number;
  legendLeft: number; legendTop: number;
  data: P; model: P; cont: P; feats: P[]; res: P; resLine: boolean; resScatter: P | null;
}

const panels: Panel[] = [
  {
    xMin: 3.195, xMax: 6.0, xIv: 0.5, xMinorSplit: 5, xFmt: (v) => (near(v, 0.5) ? v.toFixed(1) : ""),
    yMin: -0.044, yMax: 0.954, yIv: 0.5, yMinorSplit: 5, yFmt: (v) => (near(v, 0.5) ? v.toFixed(1) : ""),
    rMin: -16, rMax: 16,
    mainTop: 1, mainH: 182, resTop: 192, resH: 121,
    legendLeft: 535, legendTop: 17,
    data: p1Data, model: p1Model, cont: p1Cont, feats: p1Features, res: p1Res.concat(p1ResExtra), resLine: false, resScatter: null,
  },
  {
    xMin: 5.905, xMax: 13.0, xIv: 1, xMinorSplit: 5, xFmt: (v) => (near(v, 1) ? String(Math.round(v)) : ""),
    yMin: -0.27, yMax: 7.17, yIv: 2.5, yMinorSplit: 5, yFmt: (v) => (near(v, 2.5) ? v.toFixed(1) : ""),
    rMin: -15.8, rMax: 15.8,
    mainTop: 413, mainH: 182, resTop: 603, resH: 122,
    legendLeft: 535, legendTop: 429,
    data: p2Data, model: p2Model, cont: p2Cont, feats: p2Features, res: p2Res, resLine: true, resScatter: null,
  },
  {
    xMin: 13.0, xMax: 23.0, xIv: 2, xMinorSplit: 4, xFmt: (v) => (near(v, 2) ? String(Math.round(v)) : ""),
    yMin: 0.42, yMax: 2.43, yIv: 1, yMinorSplit: 5, yFmt: (v) => (near(v, 1) ? String(Math.round(v)) : ""),
    rMin: -15.4, rMax: 15.1,
    mainTop: 824, mainH: 183, resTop: 1015, resH: 122,
    legendLeft: 965, legendTop: 841,
    data: p3Data, model: p3Model, cont: p3Cont, feats: p3Features, res: p3Res, resLine: true, resScatter: p3ResScatter,
  },
];

const resFmt = (v: number) => (near(v, 10) ? minus(String(Math.round(v))) : "");

function mkAxis(
  gridIndex: number, position: string, min: number, max: number, iv: number, minorSplit: number,
  showLabel: boolean, fmt: (v: number) => string, extra: any = {}
) {
  return {
    type: "value", gridIndex, position, min, max,
    minInterval: iv, maxInterval: iv, splitNumber: Math.max(1, Math.round((max - min) / iv)),
    axisLine: { show: false, onZero: false },
    axisTick: { show: true, inside: true, length: 8, lineStyle: { color: "#000", width: 1.2 } },
    minorTick: { show: true, splitNumber: minorSplit, length: 4.5, lineStyle: { color: "#000", width: 1 } },
    splitLine: { show: false },
    minorSplitLine: { show: false },
    axisLabel: {
      show: showLabel, formatter: fmt, fontFamily: FONT, fontSize: 26, color: "#000",
      margin: position === "bottom" ? 8 : 6,
    },
    ...extra,
  };
}

function buildOption() {
  const grid: any[] = [];
  const xAxis: any[] = [];
  const yAxis: any[] = [];
  const series: any[] = [];
  const legend: any[] = [];

  const yNameStyle = {
    fontFamily: FONT, fontSize: 26, color: "#000",
    rich: {
      i: { fontFamily: FONT, fontSize: 26, fontStyle: "italic", color: "#000" },
      s: { fontFamily: FONT, fontSize: 18, fontStyle: "italic", color: "#000", verticalAlign: "bottom", lineHeight: 38 },
    },
  };
  const xNameStyle = {
    fontFamily: FONT, fontSize: 26, color: "#000",
    rich: { i: { fontFamily: FONT, fontSize: 26, fontStyle: "italic", color: "#000" } },
  };

  panels.forEach((p, pi) => {
    const gMain = pi * 2;
    const gRes = pi * 2 + 1;
    [
      { top: p.mainTop, height: p.mainH },
      { top: p.resTop, height: p.resH },
    ].forEach((g) => {
      grid.push({
        left: 87, width: 1101, top: g.top, height: g.height, show: true,
        borderColor: "#000", borderWidth: 1.4, backgroundColor: "transparent", containLabel: false,
      });
    });

    xAxis.push(mkAxis(gMain, "bottom", p.xMin, p.xMax, p.xIv, p.xMinorSplit, false, p.xFmt));
    xAxis.push(mkAxis(gMain, "top", p.xMin, p.xMax, p.xIv, p.xMinorSplit, false, p.xFmt));
    yAxis.push(mkAxis(gMain, "left", p.yMin, p.yMax, p.yIv, p.yMinorSplit, true, p.yFmt, {
      name: "{i|F}{s|\u03bd} (GJy / sr)", nameLocation: "middle", nameGap: 48, nameTextStyle: yNameStyle,
    }));
    yAxis.push(mkAxis(gMain, "right", p.yMin, p.yMax, p.yIv, p.yMinorSplit, false, p.yFmt));

    xAxis.push(mkAxis(gRes, "bottom", p.xMin, p.xMax, p.xIv, p.xMinorSplit, true, p.xFmt, {
      name: "Wavelength ({i|\u03bc}m)", nameLocation: "middle", nameGap: 37, nameTextStyle: xNameStyle,
    }));
    xAxis.push(mkAxis(gRes, "top", p.xMin, p.xMax, p.xIv, p.xMinorSplit, false, p.xFmt));
    yAxis.push(mkAxis(gRes, "left", p.rMin, p.rMax, 10, 5, true, resFmt, {
      name: "Res. (%)", nameLocation: "middle", nameGap: 62, nameTextStyle: { fontFamily: FONT, fontSize: 26, color: "#000" },
    }));
    yAxis.push(mkAxis(gRes, "right", p.rMin, p.rMax, 10, 5, false, resFmt));

    const ax = (g: number) => ({ xAxisIndex: g * 2, yAxisIndex: g * 2 });
    const line = (name: string, data: P, color: string, width: number, g: number, z = 2) => ({
      type: "line", name, data, ...ax(g), symbol: "none", showSymbol: false,
      smooth: 0.35, smoothMonotone: "x", color, lineStyle: { color, width }, itemStyle: { color },
      silent: true, z, clip: true,
    });

    series.push(line("Data", p.data, C_DATA, 6.5, gMain, 2));
    p.feats.forEach((f) => series.push(line("Dust Feature", f, C_DUST, 2.2, gMain, 3)));
    series.push(line("Total Continuum", p.cont, C_CONT, 3.5, gMain, 4));
    series.push(line("Total Model", p.model, C_MODEL, 4.5, gMain, 5));

    if (p.resLine) {
      series.push({
        type: "line", name: "Residual", data: p.res, ...ax(gRes), symbol: "none", showSymbol: false,
        smooth: 0.2, lineStyle: { color: C_RES_LINE, width: 7 }, color: C_RES_LINE, silent: true, clip: true,
      });
    } else {
      series.push({
        type: "scatter", name: "Residual", data: p.res, ...ax(gRes), symbolSize: 6,
        itemStyle: { color: C_RES }, silent: true, clip: true,
      });
    }
    if (p.resScatter) {
      series.push({
        type: "scatter", name: "Residual", data: p.resScatter, ...ax(gRes), symbolSize: 6,
        itemStyle: { color: C_RES }, silent: true, clip: true,
      });
    }

    legend.push({
      orient: "vertical", left: p.legendLeft, top: p.legendTop, itemWidth: 45, itemHeight: 20, itemGap: 10,
      selectedMode: false, padding: 0,
      textStyle: { fontFamily: FONT, fontSize: 21, color: "#000", lineHeight: 20, padding: [0, 0, 0, 11] },
      itemStyle: { borderWidth: 0 },
      data: [
        { name: legendNames[0], icon: "path://M0,0H45V4H0Z" },
        { name: legendNames[1], icon: "path://M0,0H45V2.5H0Z" },
        { name: legendNames[2], icon: "path://M0,0H45V5H0Z" },
        { name: legendNames[3], icon: "path://M0,0H45V6H0Z" },
      ],
    });
  });

  return { animation: false, backgroundColor: "#fff", grid, xAxis, yAxis, series, legend };
}

export default function App() {
  const ref = useRef<HTMLDivElement>(null);
  useEffect(() => {
    if (!ref.current) return;
    const chart = echarts.init(ref.current, null, { renderer: "svg" });
    chart.setOption(buildOption() as any);
    return () => chart.dispose();
  }, []);
  return (
    <div
      ref={ref}
      style={{ position: "absolute", left: 0, top: 0, width: 1200, height: 1202, background: "#fff" }}
    />
  );
}
